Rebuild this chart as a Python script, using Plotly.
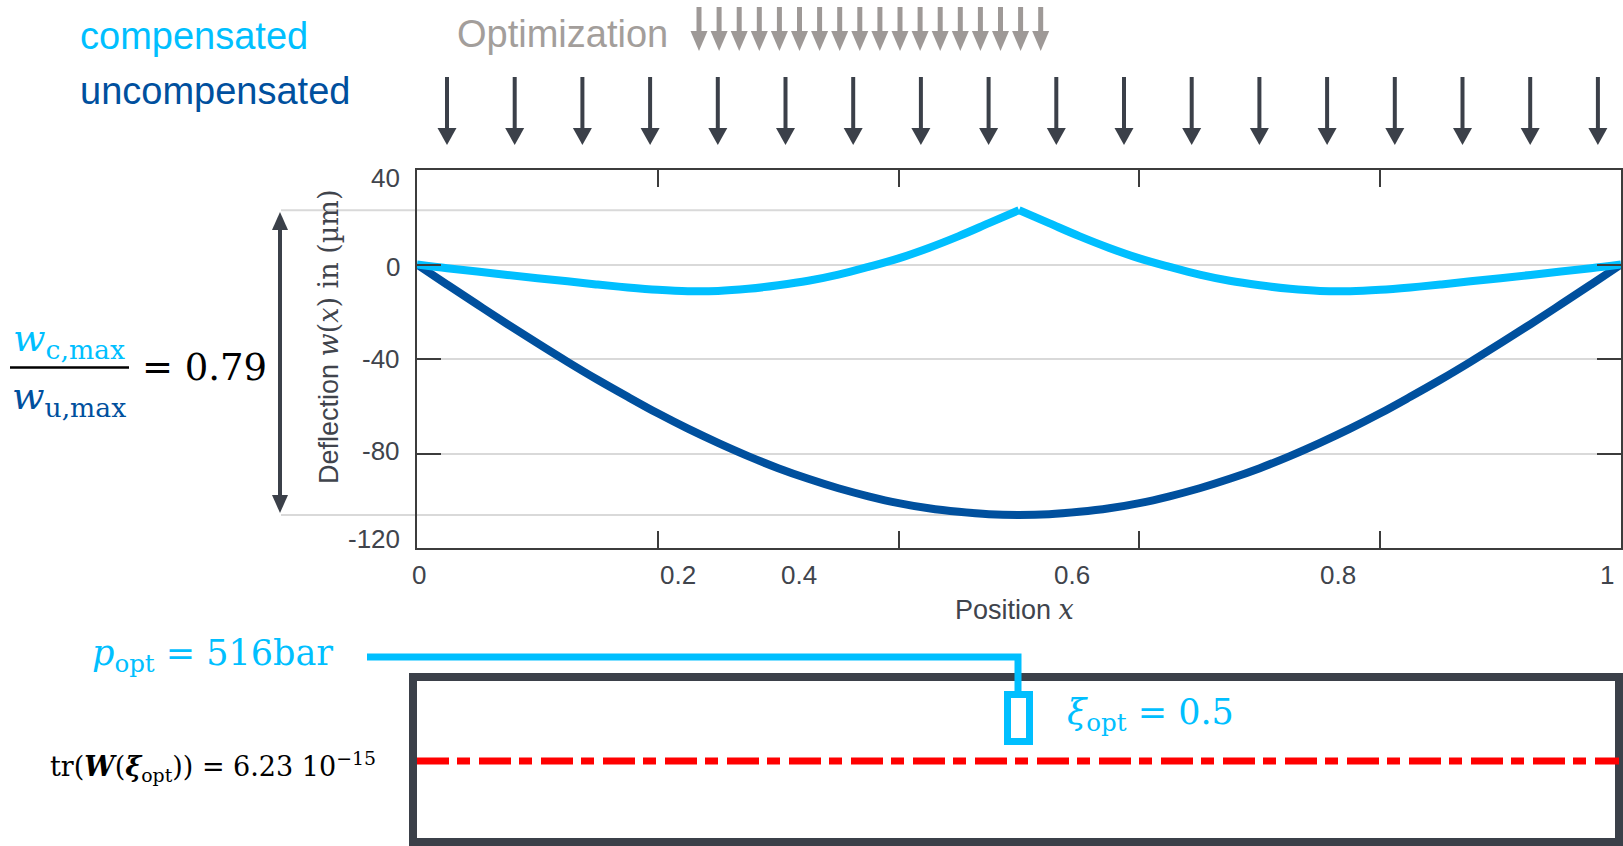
import plotly.graph_objects as go

W, H = 1623, 846

# ---------------- data ----------------
x_pos = [0.0, 0.025, 0.05, 0.075, 0.1, 0.125, 0.15, 0.175, 0.2, 0.225, 0.25,
         0.275, 0.3, 0.325, 0.35, 0.375, 0.4, 0.425, 0.45, 0.475, 0.5,
         0.525, 0.55, 0.575, 0.6, 0.625, 0.65, 0.675, 0.7, 0.725, 0.75,
         0.775, 0.8, 0.825, 0.85, 0.875, 0.9, 0.925, 0.95, 0.975, 1.0]

w_uncompensated = [0.0, -8.5, -16.9, -25.2, -33.3, -41.2, -48.8, -56.0, -63.0, -69.5, -75.5,
                   -81.1, -86.2, -90.7, -94.7, -98.1, -101.0, -103.2, -104.7, -105.7, -106.0,
                   -105.7, -104.7, -103.2, -101.0, -98.1, -94.7, -90.7, -86.2, -81.1, -75.5,
                   -69.5, -63.0, -56.0, -48.8, -41.2, -33.3, -25.2, -16.9, -8.5, 0.0]

w_compensated = [0.0, -1.6, -3.0, -4.4, -5.8, -7.1, -8.5, -9.7, -10.7, -11.3, -11.2,
                 -10.3, -8.8, -6.9, -4.3, -1.0, 2.6, 7.0, 12.0, 17.5, 23.0,
                 17.5, 12.0, 7.0, 2.6, -1.0, -4.3, -6.9, -8.8, -10.3, -11.2,
                 -11.3, -10.7, -9.7, -8.5, -7.1, -5.8, -4.4, -3.0, -1.6, 0.0]

y_tick_vals = [40, 0, -40, -80, -120]
y_tick_labels = ["40", "0", "-40", "-80", "-120"]
x_tick_vals = [0.2, 0.4, 0.6, 0.8]
x_tick_labels = ["0", "0.2", "0.4", "0.6", "0.8", "1"]
ratio_text = "0.79"
p_opt_text = "516bar"
xi_opt_text = "0.5"
trace_text = "6.23 10<sup>−15</sup>"
n_loads = 18
n_opt_arrows = 18

# ---------------- styles ----------------
C_LIGHT = "#00BFFF"
C_DARK = "#00509E"
C_GRAY_TXT = "#A39E9B"
C_ARROW = "#3B4049"
C_OPT_ARROW = "#9E9997"
C_AXIS = "#3C3C3C"
C_TICK = "#40444C"
C_GRID = "#D9D9D9"
SANS = "Liberation Sans"
SERIF = "DejaVu Serif"


def P(x):
    return x / W


def Q(y):
    return 1 - y / H


fig = go.Figure()
fig.add_trace(go.Scatter(x=x_pos, y=w_uncompensated, mode="lines",
                         line=dict(color=C_DARK, width=8, shape="spline", smoothing=1.0,
                                   simplify=False),
                         hoverinfo="skip", name="uncompensated"))
# compensated curve: drawn as two smooth halves meeting at the sharp peak
i_peak = w_compensated.index(max(w_compensated))
for sl in (slice(0, i_peak + 1), slice(i_peak, None)):
    fig.add_trace(go.Scatter(x=x_pos[sl], y=w_compensated[sl], mode="lines",
                             line=dict(color=C_LIGHT, width=8, shape="spline", smoothing=1.0,
                                       simplify=False),
                             hoverinfo="skip", name="compensated"))

shapes = []
annotations = []

# reference lines for maxima
for yv in (max(w_compensated), min(w_uncompensated)):
    shapes.append(dict(type="line", xref="paper", yref="y", x0=P(281), x1=P(1020),
                       y0=yv, y1=yv, line=dict(color=C_GRID, width=2), layer="below"))


def down_arrow(xc, y_top, y_tip, shaft_w, head_w, head_len, color):
    out = [dict(type="line", xref="paper", yref="paper", x0=P(xc), x1=P(xc),
                y0=Q(y_top), y1=Q(y_tip - head_len + 2),
                line=dict(color=color, width=shaft_w))]
    out.append(dict(type="path", xref="paper", yref="paper",
                    path=f"M {P(xc - head_w / 2)},{Q(y_tip - head_len)} "
                         f"L {P(xc + head_w / 2)},{Q(y_tip - head_len)} "
                         f"L {P(xc)},{Q(y_tip)} Z",
                    fillcolor=color, line=dict(width=0)))
    return out


# load arrows
for i in range(n_loads):
    shapes += down_arrow(447 + i * 67.7, 77, 145, 4, 19, 17, C_ARROW)
# optimization arrows
for i in range(n_opt_arrows):
    shapes += down_arrow(699 + i * 20.1, 7, 51, 5, 17, 20, C_OPT_ARROW)

# double arrow at left
ax_x, a_top, a_bot = 280, 212, 513
hw, hl = 16, 18
shapes.append(dict(type="line", xref="paper", yref="paper", x0=P(ax_x), x1=P(ax_x),
                   y0=Q(a_top + hl - 2), y1=Q(a_bot - hl + 2),
                   line=dict(color=C_ARROW, width=4)))
shapes.append(dict(type="path", xref="paper", yref="paper",
                   path=f"M {P(ax_x - hw / 2)},{Q(a_top + hl)} L {P(ax_x + hw / 2)},{Q(a_top + hl)} "
                        f"L {P(ax_x)},{Q(a_top)} Z", fillcolor=C_ARROW, line=dict(width=0)))
shapes.append(dict(type="path", xref="paper", yref="paper",
                   path=f"M {P(ax_x - hw / 2)},{Q(a_bot - hl)} L {P(ax_x + hw / 2)},{Q(a_bot - hl)} "
                        f"L {P(ax_x)},{Q(a_bot)} Z", fillcolor=C_ARROW, line=dict(width=0)))

# fraction bar
shapes.append(dict(type="line", xref="paper", yref="paper", x0=P(10), x1=P(129),
                   y0=Q(367.5), y1=Q(367.5), line=dict(color="black", width=2.5)))

# bottom frame
shapes.append(dict(type="rect", xref="paper", yref="paper", x0=P(413), x1=P(1619),
                   y0=Q(677), y1=Q(842), line=dict(color=C_ARROW, width=8)))
# red dash-dot line
shapes.append(dict(type="line", xref="paper", yref="paper", x0=P(417), x1=P(1619),
                   y0=Q(761), y1=Q(761),
                   line=dict(color="#FF0000", width=7, dash="32px,8px,13px,9px")))
# light-blue connector and actuator box
shapes.append(dict(type="path", xref="paper", yref="paper",
                   path=f"M {P(367)},{Q(657)} L {P(1018)},{Q(657)} L {P(1018)},{Q(692)}",
                   line=dict(color=C_LIGHT, width=7)))
shapes.append(dict(type="rect", xref="paper", yref="paper", x0=P(1007.5), x1=P(1029.5),
                   y0=Q(694.5), y1=Q(741.5), line=dict(color=C_LIGHT, width=7)))


def txt(text, x, y, size, color, family=SANS, xanchor="left", yanchor="middle", angle=0):
    annotations.append(dict(text=text, x=P(x), y=Q(y), xref="paper", yref="paper",
                            xanchor=xanchor, yanchor=yanchor, showarrow=False,
                            textangle=angle,
                            font=dict(size=size, color=color, family=family)))


txt("compensated", 78, 36, 38, C_LIGHT)
txt("uncompensated", 78, 91, 38, C_DARK)
txt("Optimization", 455, 34, 38, C_GRAY_TXT)

txt("<i>w</i><sub>c,max</sub>", 69, 340, 38, C_LIGHT, SERIF, "center")
txt("<i>w</i><sub>u,max</sub>", 69, 399, 38, C_DARK, SERIF, "center")
txt("= " + ratio_text, 140, 367, 37, "black", SERIF)

txt(f"Deflection <span style='font-family:{SERIF}'><i>w</i>(<i>x</i>) in (µm)</span>",
    329, 337, 27, C_TICK, SANS, "center", "middle", -90)
txt(f"Position <span style='font-family:{SERIF}'><i>x</i></span>", 1014, 609, 27, C_TICK,
    SANS, "center")

# x tick labels (placed as in the reference)
x_label_px = [419, 678, 799, 1072, 1338, 1607]
for lab, px in zip(x_tick_labels, x_label_px):
    txt(lab, px, 575, 26, C_TICK, SANS, "center")

# y tick labels (placed as in the reference)
y_label_py = [178, 267, 359, 451, 539]
for lab, py in zip(y_tick_labels, y_label_py):
    txt(lab, 402, py, 26, C_TICK, SANS, "right")

txt("<i>p</i><sub>opt</sub> = " + p_opt_text, 90, 655, 35, C_LIGHT, SERIF)
txt("<i>ξ</i><sub>opt</sub> = " + xi_opt_text, 1065, 714, 35, C_LIGHT, SERIF)
txt("tr(<b><i>W</i></b>(<b><i>ξ</i></b><sub>opt</sub>)) = " + trace_text, 48, 766, 27,
    "black", SERIF)

fig.update_layout(
    width=W, height=H,
    margin=dict(l=0, r=0, t=0, b=0),
    paper_bgcolor="white", plot_bgcolor="white",
    showlegend=False,
    shapes=shapes, annotations=annotations,
    xaxis=dict(domain=[417 / W, 1621 / W], range=[0, 1], tickvals=x_tick_vals,
               showticklabels=False, ticks="inside", ticklen=17, tickcolor=C_AXIS,
               tickwidth=1.5, showgrid=False, zeroline=False, showline=True,
               linecolor=C_AXIS, linewidth=1.5, mirror="ticks", automargin=False,
               fixedrange=True),
    yaxis=dict(domain=[1 - 548 / H, 1 - 170 / H], range=[-120, 40], tickvals=y_tick_vals,
               showticklabels=False,
               ticks="inside", ticklen=24, tickcolor=C_AXIS, tickwidth=1.5,
               showgrid=True, gridcolor=C_GRID, gridwidth=2, zeroline=False,
               showline=True, linecolor=C_AXIS, linewidth=1.5, mirror="ticks",
               automargin=False, fixedrange=True),
)

fig.write_html("out.html")
